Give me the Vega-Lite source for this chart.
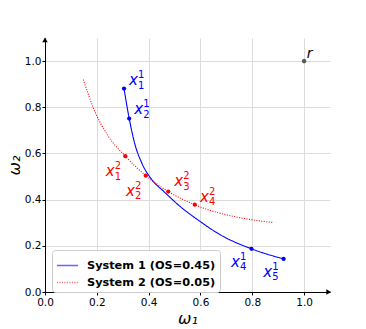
{
  "$schema": "https://vega.github.io/schema/vega-lite/v6.json",
  "width": 285,
  "height": 254,
  "autosize": {"type": "none"},
  "padding": {"left": 45, "top": 38, "right": 36, "bottom": 37},
  "config": {
    "view": {"stroke": null},
    "font": "DejaVu Sans",
    "axis": {
      "domainColor": "black", "domainWidth": 1, "tickColor": "black", "tickSize": 3,
      "labelFontSize": 10.5, "labelColor": "black", "labelFont": "DejaVu Sans",
      "labelFlush": false, "labelOverlap": false,
      "gridColor": "#dcdcdc", "gridWidth": 1,
      "titleFontWeight": "normal", "titleFontSize": 16, "titleColor": "black", "titleFont": "DejaVu Sans"
    },
    "legend": {
      "orient": "none", "legendX": 7, "legendY": 212,
      "symbolType": "stroke", "symbolSize": 450, "symbolStrokeWidth": 1.5, "symbolOpacity": 0.6,
      "labelFontSize": 11.3, "labelFontWeight": "bold", "labelColor": "black", "labelFont": "DejaVu Sans",
      "strokeColor": "#cccccc", "fillColor": "white", "cornerRadius": 3, "padding": 4,
      "labelOffset": 8, "rowPadding": 0
    }
  },
  "datasets": {
    "curves": [
      {"series": "System 1 (OS=0.45)", "w1": 0.305, "w2": 0.881},
      {"series": "System 1 (OS=0.45)", "w1": 0.325, "w2": 0.751},
      {"series": "System 1 (OS=0.45)", "w1": 0.347, "w2": 0.640},
      {"series": "System 1 (OS=0.45)", "w1": 0.373, "w2": 0.560},
      {"series": "System 1 (OS=0.45)", "w1": 0.412, "w2": 0.487},
      {"series": "System 1 (OS=0.45)", "w1": 0.459, "w2": 0.435},
      {"series": "System 1 (OS=0.45)", "w1": 0.521, "w2": 0.371},
      {"series": "System 1 (OS=0.45)", "w1": 0.598, "w2": 0.306},
      {"series": "System 1 (OS=0.45)", "w1": 0.676, "w2": 0.248},
      {"series": "System 1 (OS=0.45)", "w1": 0.797, "w2": 0.187},
      {"series": "System 1 (OS=0.45)", "w1": 0.921, "w2": 0.143},
      {"series": "System 2 (OS=0.05)", "w1": 0.148, "w2": 0.920},
      {"series": "System 2 (OS=0.05)", "w1": 0.186, "w2": 0.799},
      {"series": "System 2 (OS=0.05)", "w1": 0.244, "w2": 0.675},
      {"series": "System 2 (OS=0.05)", "w1": 0.310, "w2": 0.588},
      {"series": "System 2 (OS=0.05)", "w1": 0.389, "w2": 0.504},
      {"series": "System 2 (OS=0.05)", "w1": 0.476, "w2": 0.435},
      {"series": "System 2 (OS=0.05)", "w1": 0.578, "w2": 0.378},
      {"series": "System 2 (OS=0.05)", "w1": 0.798, "w2": 0.313},
      {"series": "System 2 (OS=0.05)", "w1": 0.881, "w2": 0.301}
    ],
    "dots": [
      {"series": "System 1 (OS=0.45)", "w1": 0.305, "w2": 0.881},
      {"series": "System 1 (OS=0.45)", "w1": 0.325, "w2": 0.751},
      {"series": "System 1 (OS=0.45)", "w1": 0.797, "w2": 0.187},
      {"series": "System 1 (OS=0.45)", "w1": 0.921, "w2": 0.143},
      {"series": "System 2 (OS=0.05)", "w1": 0.310, "w2": 0.588},
      {"series": "System 2 (OS=0.05)", "w1": 0.389, "w2": 0.504},
      {"series": "System 2 (OS=0.05)", "w1": 0.476, "w2": 0.435},
      {"series": "System 2 (OS=0.05)", "w1": 0.578, "w2": 0.378}
    ],
    "labels": [
      {"series": "System 1 (OS=0.45)", "w1": 0.324, "w2": 0.896, "base": "x", "sup": "1", "sub": "1"},
      {"series": "System 1 (OS=0.45)", "w1": 0.344, "w2": 0.770, "base": "x", "sup": "1", "sub": "2"},
      {"series": "System 1 (OS=0.45)", "w1": 0.718, "w2": 0.109, "base": "x", "sup": "1", "sub": "4"},
      {"series": "System 1 (OS=0.45)", "w1": 0.842, "w2": 0.065, "base": "x", "sup": "1", "sub": "5"},
      {"series": "System 2 (OS=0.05)", "w1": 0.234, "w2": 0.502, "base": "x", "sup": "2", "sub": "1"},
      {"series": "System 2 (OS=0.05)", "w1": 0.313, "w2": 0.417, "base": "x", "sup": "2", "sub": "2"},
      {"series": "System 2 (OS=0.05)", "w1": 0.499, "w2": 0.457, "base": "x", "sup": "2", "sub": "3"},
      {"series": "System 2 (OS=0.05)", "w1": 0.598, "w2": 0.391, "base": "x", "sup": "2", "sub": "4"}
    ],
    "ref": [{"w1": 1.0, "w2": 1.0, "name": "r", "lx": 1.010, "ly": 1.013}]
  },
  "layer": [
    {
      "data": {"name": "curves"},
      "mark": {"type": "line", "interpolate": "monotone", "strokeWidth": 1.1},
      "encoding": {
        "x": {"field": "w1", "type": "quantitative",
          "scale": {"domain": [0, 1.1], "nice": false, "zero": false},
          "axis": {"values": [0, 0.2, 0.4, 0.6, 0.8, 1.0], "format": ".1f", "title": "ω₁", "titleFontStyle": "italic", "titlePadding": 3, "labelPadding": 2}},
        "y": {"field": "w2", "type": "quantitative",
          "scale": {"domain": [0, 1.1], "nice": false, "zero": false},
          "axis": {"values": [0, 0.2, 0.4, 0.6, 0.8, 1.0], "format": ".1f", "title": "ω₂", "titleFontStyle": "italic", "titlePadding": 2, "labelPadding": 1}},
        "color": {"field": "series", "type": "nominal", "title": null,
          "scale": {"domain": ["System 1 (OS=0.45)", "System 2 (OS=0.05)"], "range": ["blue", "red"]}},
        "strokeDash": {"field": "series", "type": "nominal", "title": null,
          "scale": {"domain": ["System 1 (OS=0.45)", "System 2 (OS=0.05)"], "range": [[1, 0], [1, 1.5]]}}
      }
    },
    {
      "data": {"name": "dots"},
      "mark": {"type": "point", "filled": true, "size": 18, "opacity": 1},
      "encoding": {
        "x": {"field": "w1", "type": "quantitative"},
        "y": {"field": "w2", "type": "quantitative"},
        "color": {"field": "series", "type": "nominal", "title": null}
      }
    },
    {
      "data": {"name": "labels"},
      "mark": {"type": "text", "align": "left", "baseline": "alphabetic", "fontSize": 15, "fontStyle": "italic", "font": "DejaVu Sans"},
      "encoding": {
        "x": {"field": "w1", "type": "quantitative"},
        "y": {"field": "w2", "type": "quantitative"},
        "text": {"field": "base"},
        "color": {"field": "series", "type": "nominal", "title": null}
      }
    },
    {
      "data": {"name": "labels"},
      "mark": {"type": "text", "align": "left", "baseline": "alphabetic", "fontSize": 10, "dx": 9, "dy": -7, "font": "DejaVu Sans"},
      "encoding": {
        "x": {"field": "w1", "type": "quantitative"},
        "y": {"field": "w2", "type": "quantitative"},
        "text": {"field": "sup"},
        "color": {"field": "series", "type": "nominal", "title": null}
      }
    },
    {
      "data": {"name": "labels"},
      "mark": {"type": "text", "align": "left", "baseline": "alphabetic", "fontSize": 10, "dx": 9, "dy": 3.5, "font": "DejaVu Sans"},
      "encoding": {
        "x": {"field": "w1", "type": "quantitative"},
        "y": {"field": "w2", "type": "quantitative"},
        "text": {"field": "sub"},
        "color": {"field": "series", "type": "nominal", "title": null}
      }
    },
    {
      "data": {"name": "ref"},
      "mark": {"type": "point", "filled": true, "size": 14, "color": "#222222", "stroke": "black", "strokeWidth": 0.8},
      "encoding": {
        "x": {"field": "w1", "type": "quantitative"},
        "y": {"field": "w2", "type": "quantitative"}
      }
    },
    {
      "data": {"name": "ref"},
      "mark": {"type": "text", "align": "left", "baseline": "alphabetic", "fontSize": 14, "fontStyle": "italic", "color": "black", "font": "DejaVu Sans"},
      "encoding": {
        "x": {"field": "lx", "type": "quantitative"},
        "y": {"field": "ly", "type": "quantitative"},
        "text": {"field": "name"}
      }
    },
    {
      "data": {"values": [{"w1": 0, "w2": 1.092}]},
      "mark": {"type": "point", "shape": "triangle-up", "filled": true, "size": 30, "color": "black", "opacity": 1},
      "encoding": {
        "x": {"field": "w1", "type": "quantitative"},
        "y": {"field": "w2", "type": "quantitative"}
      }
    },
    {
      "data": {"values": [{"w1": 1.095, "w2": 0}]},
      "mark": {"type": "point", "shape": "triangle-right", "filled": true, "size": 30, "color": "black", "opacity": 1},
      "encoding": {
        "x": {"field": "w1", "type": "quantitative"},
        "y": {"field": "w2", "type": "quantitative"}
      }
    }
  ]
}
